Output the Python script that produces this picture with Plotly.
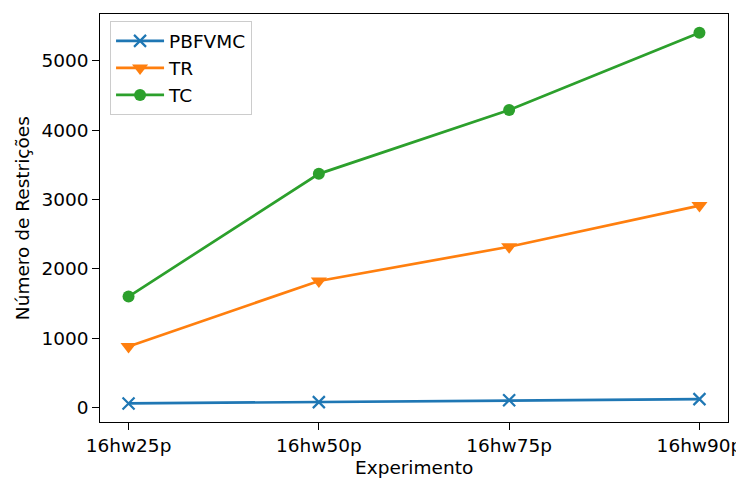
import plotly.graph_objects as go

categories = ["16hw25p", "16hw50p", "16hw75p", "16hw90p"]
pbfvmc = [58, 77, 105, 120]
tr = [880, 1825, 2318, 2912]
tc = [1600, 3370, 4290, 5405]

F = "DejaVu Sans"
FS = 18.5
LW = 2.7

fig = go.Figure()
fig.add_trace(go.Scatter(x=list(range(4)), y=pbfvmc, name="PBFVMC", mode="lines+markers",
                         line=dict(color="#1f77b4", width=LW),
                         marker=dict(symbol="x-thin", size=12, line=dict(width=2.2, color="#1f77b4"), color="#1f77b4")))
fig.add_trace(go.Scatter(x=list(range(4)), y=tr, name="TR", mode="lines+markers",
                         line=dict(color="#ff7f0e", width=LW),
                         marker=dict(symbol="triangle-down", size=14, color="#ff7f0e")))
fig.add_trace(go.Scatter(x=list(range(4)), y=tc, name="TC", mode="lines+markers",
                         line=dict(color="#2ca02c", width=LW),
                         marker=dict(symbol="circle", size=12, color="#2ca02c")))

# page body has an 8px margin, so the figure is shifted by 8px; compensate
fig.update_layout(
    width=736, height=471,
    margin=dict(l=92, r=16, t=6, b=57),
    paper_bgcolor="white", plot_bgcolor="white",
    font=dict(family=F, size=FS, color="black"),
    showlegend=True,
    legend=dict(x=0.016, y=0.982, xanchor="left", yanchor="top",
                bgcolor="rgba(255,255,255,0.8)", bordercolor="#cccccc", borderwidth=1,
                font=dict(family=F, size=FS), tracegroupgap=0, itemwidth=48),
    xaxis=dict(range=[-0.15, 3.15], tickmode="array", tickvals=list(range(4)), ticktext=categories,
               automargin=False,
               showgrid=False, zeroline=False, showline=True, linecolor="black", linewidth=1.3,
               mirror=True, ticks="outside", ticklen=6.5, tickwidth=1.3, tickcolor="black"),
    yaxis=dict(range=[-210, 5676], tickmode="array", tickvals=[0, 1000, 2000, 3000, 4000, 5000],
               automargin=False,
               showgrid=False, zeroline=False, showline=True, linecolor="black", linewidth=1.3,
               mirror=True, ticks="outside", ticklen=6.5, tickwidth=1.3, tickcolor="black"),
    annotations=[
        dict(text="Experimento", x=0.5, y=-0.111, xref="paper", yref="paper",
             xanchor="center", yanchor="middle", showarrow=False, font=dict(family=F, size=FS)),
        dict(text="Número de Restrições", x=-0.124, y=0.5, xref="paper", yref="paper",
             xanchor="center", yanchor="middle", textangle=-90, showarrow=False, font=dict(family=F, size=FS)),
    ],
)

fig.write_html("out.html")
